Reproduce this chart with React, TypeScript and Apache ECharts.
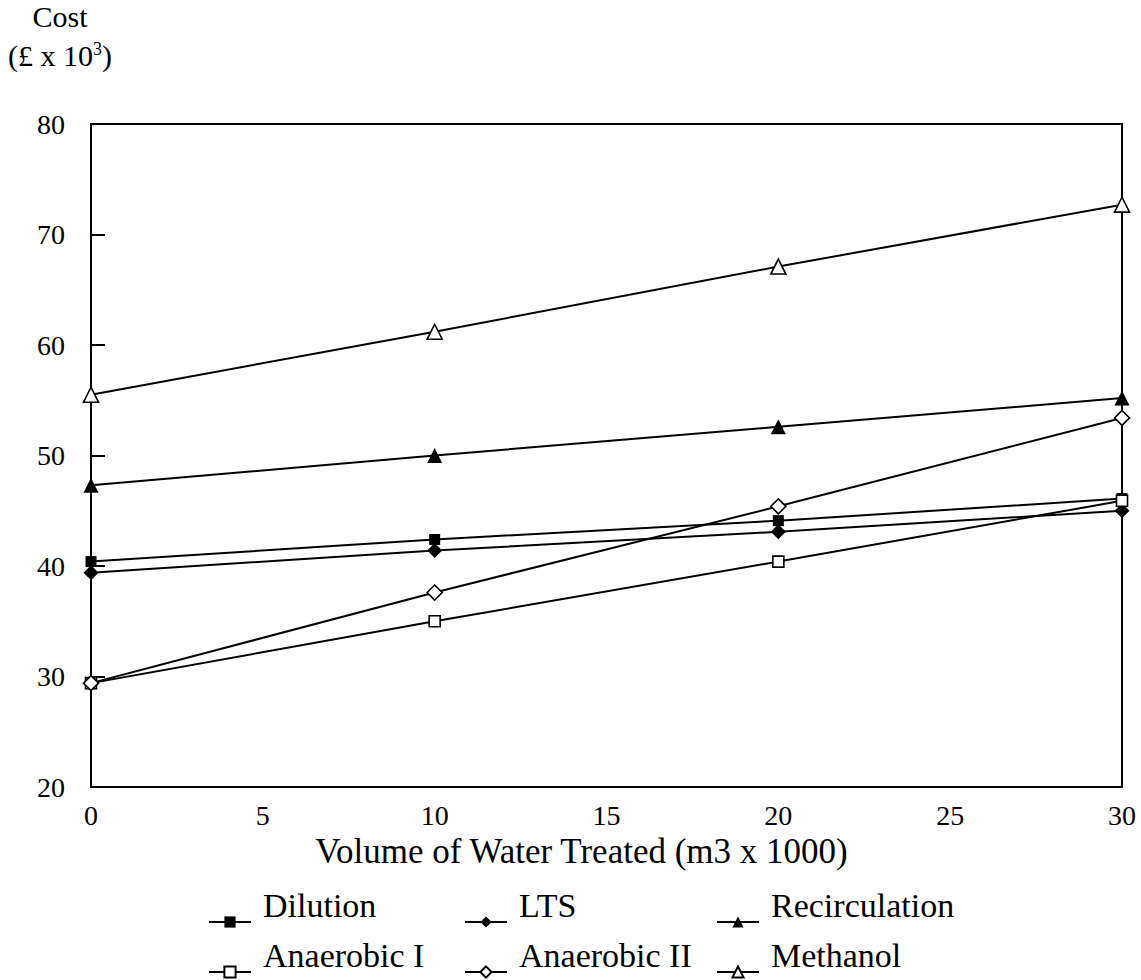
import React, { useEffect, useRef } from "react";
import * as echarts from "echarts";

// Volume of water treated (m3 x 1000)
const volume = [0, 10, 20, 30];

// Cost (£ x 10^3) per treatment option
const dilution = [40.4, 42.4, 44.1, 46.1];
const lts = [39.4, 41.4, 43.1, 45.0];
const recirculation = [47.3, 50.0, 52.6, 55.2];
const anaerobicI = [29.4, 35.0, 40.4, 45.9];
const anaerobicII = [29.4, 37.6, 45.4, 53.4];
const methanol = [55.5, 61.2, 67.1, 72.7];

const xTicks = [0, 5, 10, 15, 20, 25, 30];
const yTicks = [20, 30, 40, 50, 60, 70, 80];

const FONT = "'Liberation Serif', 'Times New Roman', serif";

type SeriesDef = {
  name: string;
  values: number[];
  symbol: string;
  size: number;
  filled: boolean;
};

const seriesDefs: SeriesDef[] = [
  { name: "Dilution", values: dilution, symbol: "rect", size: 11, filled: true },
  { name: "LTS", values: lts, symbol: "diamond", size: 15, filled: true },
  { name: "Recirculation", values: recirculation, symbol: "triangle", size: 15, filled: true },
  { name: "Anaerobic I", values: anaerobicI, symbol: "rect", size: 11, filled: false },
  { name: "Anaerobic II", values: anaerobicII, symbol: "diamond", size: 15, filled: false },
  { name: "Methanol", values: methanol, symbol: "triangle", size: 15, filled: false },
];

// legend column left edges and row icon centres
const legendCols = [208, 464, 716];
const legendRowCentres = [922, 972];

export default function App() {
  const ref = useRef<HTMLDivElement>(null);

  useEffect(() => {
    if (!ref.current) return;
    const chart = echarts.init(ref.current, undefined, { renderer: "svg" });

    const series = seriesDefs.map((d) => ({
      name: d.name,
      type: "line",
      data: volume.map((v, i) => [v, d.values[i]]),
      symbol: d.symbol,
      symbolSize: d.size,
      showAllSymbol: true,
      lineStyle: { color: "#000", width: 2 },
      itemStyle: {
        color: d.filled ? "#000" : "#fff",
        borderColor: "#000",
        borderWidth: d.filled ? 0 : 1.6,
      },
      emphasis: { disabled: true },
    }));

    // each legend entry: label raised above its line-and-marker key
    const textLine = 34;
    const spacerLine = 34;
    const blockHalf = (textLine + spacerLine) / 2;
    const itemHeight = 14;
    const legends = seriesDefs.map((d, i) => ({
      data: [d.name],
      left: legendCols[i % 3],
      top: legendRowCentres[Math.floor(i / 3)] - blockHalf,
      padding: 0,
      orient: "horizontal",
      itemWidth: 42,
      itemHeight,
      selectedMode: false,
      formatter: "{t|{name}}\n{s| }",
      textStyle: {
        fontFamily: FONT,
        fontSize: 34,
        color: "#000",
        rich: {
          t: { fontFamily: FONT, fontSize: 34, lineHeight: textLine, color: "#000", padding: [0, 0, 0, 7] },
          s: { fontSize: 4, lineHeight: spacerLine },
        },
      },
    }));

    chart.setOption({
      animation: false,
      backgroundColor: "#fff",
      grid: {
        left: 91,
        top: 124,
        right: 19,
        bottom: 193,
        show: true,
        borderColor: "#000",
        borderWidth: 2,
      },
      xAxis: {
        type: "value",
        min: xTicks[0],
        max: xTicks[xTicks.length - 1],
        interval: 5,
        name: "Volume of Water Treated (m3 x 1000)",
        nameLocation: "middle",
        nameGap: 45,
        nameTextStyle: { fontFamily: FONT, fontSize: 35, color: "#000", padding: [0, 50, 0, 0] },
        axisLine: { lineStyle: { color: "#000", width: 2 } },
        axisTick: { show: false },
        axisLabel: { fontFamily: FONT, fontSize: 28, color: "#000", margin: 14 },
        splitLine: { show: false },
      },
      yAxis: {
        type: "value",
        min: yTicks[0],
        max: yTicks[yTicks.length - 1],
        interval: 10,
        axisLine: { show: true, lineStyle: { color: "#000", width: 2 } },
        axisTick: { show: true, inside: true, length: 14, lineStyle: { color: "#000", width: 2 } },
        axisLabel: { fontFamily: FONT, fontSize: 28, color: "#000", margin: 26 },
        splitLine: { show: false },
      },
      legend: legends,
      graphic: [
        {
          type: "text",
          x: 60,
          y: 1,
          style: { text: "Cost", fontFamily: FONT, fontSize: 30, fill: "#000", align: "center" },
        },
        {
          type: "text",
          x: 60,
          y: 40,
          style: {
            text: "(£ x 10{sup|3})",
            fontFamily: FONT,
            fontSize: 30,
            fill: "#000",
            align: "center",
            rich: {
              sup: { fontFamily: FONT, fontSize: 18, fill: "#000", verticalAlign: "top", padding: [0, 0, 12, 0] },
            },
          },
        },
      ],
      series,
    });

    return () => chart.dispose();
  }, []);

  return (
    <div
      ref={ref}
      style={{ position: "absolute", left: 0, top: 0, width: 1141, height: 980 }}
    />
  );
}
